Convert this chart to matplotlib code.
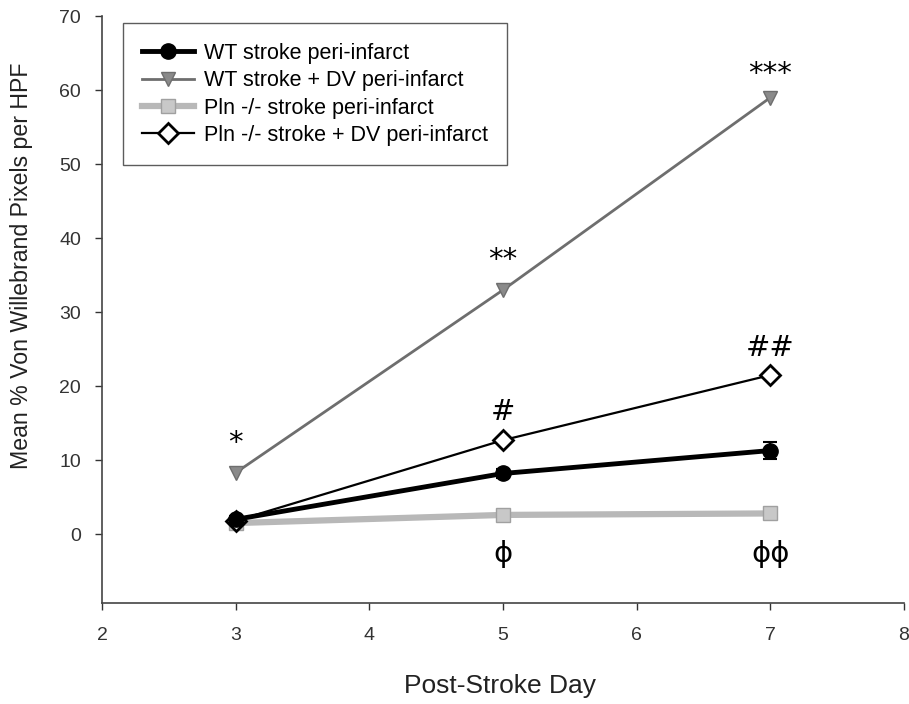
import matplotlib
matplotlib.use("Agg")
import matplotlib.pyplot as plt

plt.rcParams["font.family"] = ["Liberation Sans", "DejaVu Sans"]

days = [3, 5, 7]

wt_stroke = [2.0, 8.2, 11.3]
wt_stroke_err = [0.4, 0.6, 1.2]
wt_dv = [8.3, 33.0, 59.0]
pln_stroke = [1.5, 2.6, 2.8]
pln_dv = [1.8, 12.7, 21.5]

# significance marks: (day, y, text)
marks = [
    (3, 12.3, "*"),
    (5, 37.0, "**"),
    (7, 62.2, "***"),
    (5, 16.5, "#"),
    (7, 25.2, "##"),
    (5, -2.7, "ϕ"),
    (7, -2.7, "ϕϕ"),
]

fig = plt.figure(figsize=(9.09, 7.04), dpi=100)
ax = fig.add_axes([0.1122, 0.1435, 0.8823, 0.8335])

ax.plot(days, pln_stroke, color="#b8b8b8", lw=4.5, marker="s", ms=10,
        mfc="#c8c8c8", mec="#a0a0a0", label="Pln -/- stroke peri-infarct", zorder=2)
ax.plot(days, wt_dv, color="#6e6e6e", lw=2, marker="v", ms=10,
        mfc="#8a8a8a", mec="#6e6e6e", label="WT stroke + DV peri-infarct", zorder=3)
ax.plot(days, pln_dv, color="black", lw=1.6, marker="D", ms=10,
        mfc="white", mec="black", mew=2, label="Pln -/- stroke + DV peri-infarct", zorder=4)
ax.errorbar(days, wt_stroke, yerr=wt_stroke_err, fmt="none", ecolor="black",
            capsize=5, capthick=1.5, elinewidth=1.5, zorder=5)
ax.plot(days, wt_stroke, color="black", lw=3.5, marker="o", ms=11,
        label="WT stroke peri-infarct", zorder=6)

for d, y, t in marks:
    ax.text(d, y, t, ha="center", va="center", fontsize=21, family="DejaVu Sans")

ax.set_xlim(2, 8)
ax.set_ylim(-9.3, 70)
ax.set_xticks(range(2, 9))
ax.set_yticks(range(0, 71, 10))
ax.tick_params(direction="out", length=5, width=1, labelsize=14, colors="#333333")
ax.tick_params(axis="x", pad=12)
ax.tick_params(axis="y", pad=10)
for s in ("top", "right"):
    ax.spines[s].set_visible(False)
for s in ("left", "bottom"):
    ax.spines[s].set_color("#444444")
    ax.spines[s].set_linewidth(1.2)

ax.set_xlabel("Post-Stroke Day", fontsize=19, color="#222222")
ax.set_ylabel("Mean % Von Willebrand Pixels per HPF", fontsize=16.7, color="#222222")
ax.xaxis.set_label_coords(0.496, -0.121)
ax.yaxis.set_label_coords(-0.086, 0.574)

handles, labels = ax.get_legend_handles_labels()
order = ["WT stroke peri-infarct", "WT stroke + DV peri-infarct",
         "Pln -/- stroke peri-infarct", "Pln -/- stroke + DV peri-infarct"]
hl = dict(zip(labels, handles))
leg = ax.legend([hl[k] for k in order], order, loc="upper left",
                bbox_to_anchor=(0.026, 0.988), borderaxespad=0, fontsize=15.5,
                frameon=True, fancybox=False, edgecolor="#333333", handlelength=2.4,
                borderpad=0.9, labelspacing=0.3, handletextpad=0.45)
leg.get_frame().set_linewidth(1.0)

fig.savefig("out.png", dpi=100)
